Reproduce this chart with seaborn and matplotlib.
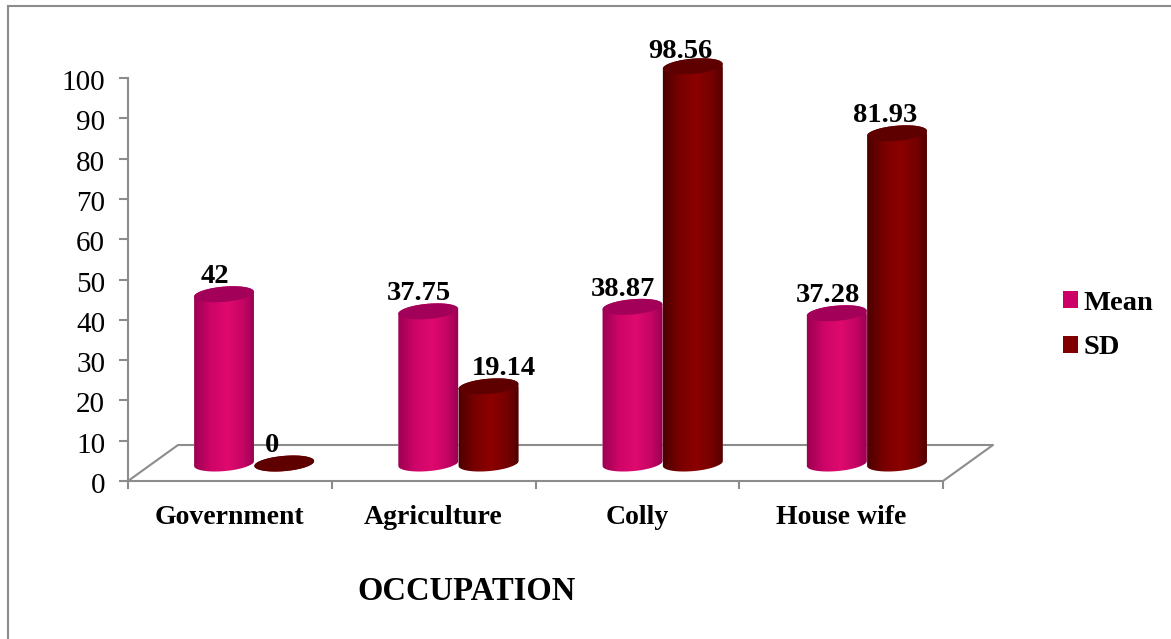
import numpy as np
import pandas as pd
import matplotlib
matplotlib.use("Agg")
import matplotlib.pyplot as plt
from matplotlib.colors import LinearSegmentedColormap
from matplotlib.patches import Polygon
from matplotlib.transforms import ScaledTranslation
import seaborn as sns

categories = ["Government", "Agriculture", "Colly", "House wife"]
mean_values = [42, 37.75, 38.87, 37.28]
sd_values = [0, 19.14, 98.56, 81.93]
series_names = ["Mean", "SD"]
x_title = "OCCUPATION"

W, H, DPI = 1171, 639, 100
GREY = "#8c8c8c"
FLAT = {"Mean": "#CC0066", "SD": "#800000"}
TOPS = {"Mean": "#A3005A", "SD": "#5E0000"}
GRADS = {
    "Mean": [(0, "#96004F"), (0.3, "#CF0568"), (0.55, "#DF0A6E"), (0.8, "#C40463"), (1, "#8E004C")],
    "SD": [(0, "#470000"), (0.3, "#7A0000"), (0.55, "#8C0000"), (0.8, "#740000"), (1, "#4A0000")],
}

sns.set_theme(style="white")
plt.rcParams["font.family"] = ["Liberation Serif", "DejaVu Serif"]

df = pd.DataFrame({
    "category": categories * 2,
    "series": [series_names[0]] * 4 + [series_names[1]] * 4,
    "value": mean_values + sd_values,
})

fig = plt.figure(figsize=(W / DPI, H / DPI), dpi=DPI)


def rect(x0, x1, ytop, ybot):
    return [x0 / W, 1 - ybot / H, (x1 - x0) / W, (ybot - ytop) / H]


# axis frame (front of the chart floor)
base = fig.add_axes(rect(128, 943, 78, 481), zorder=1)
base.set_xlim(-0.5, 3.5)
base.set_ylim(0, 100)
base.set_yticks(np.arange(0, 101, 10))
base.set_xticks(range(4), categories, fontweight="bold", fontsize=20)
base.set_xticks(np.arange(-0.5, 4, 1), minor=True)
base.tick_params(axis="x", which="major", length=0, pad=17, labelcolor="black")
base.tick_params(axis="x", which="minor", length=6, width=1.5, color=GREY, bottom=True)
base.tick_params(axis="y", length=6.5, width=1.5, color=GREY, pad=10, labelsize=21, left=True, labelcolor="black")
shift_down = ScaledTranslation(0, -2 / DPI, fig.dpi_scale_trans)
for lab in base.get_yticklabels():
    lab.set_transform(lab.get_transform() + shift_down)
for s in ["top", "right"]:
    base.spines[s].set_visible(False)
for s in ["left", "bottom"]:
    base.spines[s].set_color(GREY)
    base.spines[s].set_linewidth(1.5)
base.set_xlabel(x_title, fontweight="bold", fontsize=23.5, color="black")
base.xaxis.set_label_coords((466.5 - 128) / 815, -(592 - 481) / 403)
base.xaxis.label.set_verticalalignment("center")


def px_line(xs, ys, **kw):
    base.plot([x / W for x in xs], [1 - y / H for y in ys], transform=fig.transFigure,
              clip_on=False, color=GREY, lw=1.5, solid_capstyle="projecting", **kw)


px_line([128, 178, 993, 943], [481, 445, 445, 481])
px_line([8, 8], [6, 639])
px_line([8, 1171], [6, 6])
base.set_xlim(-0.5, 3.5)
base.set_ylim(0, 100)

# cylinders, standing in the middle of the floor
PX_PER_UNIT = 4.03
Y0 = 463.5
LOW, HIGH = -6, 106
ax = fig.add_axes(rect(152, 969, Y0 - HIGH * PX_PER_UNIT, Y0 - LOW * PX_PER_UNIT), zorder=2)
ax.patch.set_alpha(0)
sns.barplot(data=df, x="category", y="value", hue="series", hue_order=series_names,
            palette=FLAT, width=0.59, gap=0, dodge=True, ax=ax, errorbar=None, legend=False)
ax.set_xlim(-0.5, 3.5)
ax.set_ylim(LOW, HIGH)
ax.axis("off")

RX, RY, TILT = 30.0, 7.6, np.radians(5)


def ellipse_px(cx, cy, t):
    ex, ey = RX * np.cos(t), RY * np.sin(t)
    return np.column_stack([cx + ex * np.cos(TILT) - ey * np.sin(TILT),
                            cy + ex * np.sin(TILT) + ey * np.cos(TILT)])


inv = ax.transData.inverted()
default_dx = {"Mean": -9, "SD": -12}
label_dx = {"19.14": 15}
label_dy = {"98.56": 15}

for i, (name, cont) in enumerate(zip(series_names, ax.containers)):
    cmap = LinearSegmentedColormap.from_list(name, GRADS[name])
    for bar in cont:
        xc = bar.get_x() + bar.get_width() / 2
        v = bar.get_height()
        cb = ax.transData.transform((xc, 0))
        ct = ax.transData.transform((xc, v))
        upper = ellipse_px(ct[0], ct[1], np.linspace(0, np.pi, 60))
        lower = ellipse_px(cb[0], cb[1], np.linspace(np.pi, 2 * np.pi, 60))
        body = Polygon(inv.transform(np.vstack([upper, lower])), closed=True,
                       transform=ax.transData, fc="none", ec="none")
        ax.add_patch(body)
        bar.set_clip_path(body)
        bar.set_zorder(2 + i)
        im = ax.imshow(np.linspace(0, 1, 128).reshape(1, -1), cmap=cmap, aspect="auto",
                       extent=(bar.get_x() - 0.01, bar.get_x() + bar.get_width() + 0.01, LOW, min(HIGH, v + 6)),
                       zorder=2.1 + i, interpolation="bilinear")
        im.set_clip_path(body)
        cap = Polygon(inv.transform(ellipse_px(ct[0], ct[1], np.linspace(0, 2 * np.pi, 90))),
                      closed=True, transform=ax.transData, fc=TOPS[name], ec="none", zorder=2.2 + i)
        ax.add_patch(cap)
        txt = f"{v:g}"
        dx = label_dx.get(txt, default_dx[name])
        dy = label_dy.get(txt, 17.5)
        ax.annotate(txt, (xc, v), xytext=(dx * 0.72, dy * 0.72),
                    textcoords="offset points", ha="center", va="center",
                    fontsize=20.5, fontweight="bold", color="black", zorder=6)
ax.set_xlim(-0.5, 3.5)
ax.set_ylim(LOW, HIGH)

handles = [plt.Rectangle((0, 0), 1, 1, fc=FLAT[n], ec="none") for n in series_names]
leg = fig.legend(handles, series_names, loc="center left",
                 bbox_to_anchor=(1063 / W, 1 - 325.5 / H), frameon=False,
                 prop={"family": "Liberation Serif", "weight": "bold", "size": 20.5},
                 labelcolor="black",
                 handlelength=0.52, handleheight=0.52, handletextpad=0.2, labelspacing=0.7,
                 borderpad=0, borderaxespad=0)

fig.savefig("out.png", dpi=DPI, facecolor="white")
